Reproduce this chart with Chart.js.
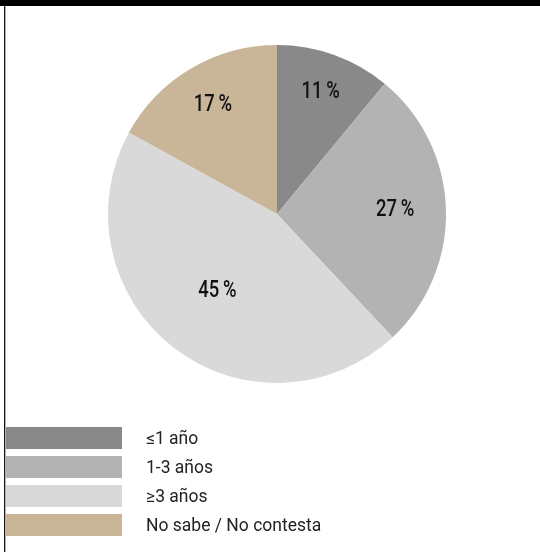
<!DOCTYPE html>
<html>
<head>
<meta charset="utf-8">
<script src="https://cdn.jsdelivr.net/npm/chart.js@4"></script>
<style>
  html, body { margin: 0; padding: 0; background: #fff; }
  body { width: 540px; height: 552px; position: relative; overflow: hidden; }
  #topbar { position: absolute; left: 0; top: 0; width: 540px; height: 6px; background: #000; }
  #leftline { position: absolute; left: 4px; top: 6px; width: 1px; height: 546px; background: #1a1a1a; border-right: 1px solid #b0b0b0; }
  #wrap { position: absolute; left: 0; top: 0; width: 540px; height: 552px; }
  #legend { position: absolute; left: 6px; top: 427px; font-family: Roboto, "Noto Sans", sans-serif; font-size: 17.5px; color: #222; }
  .item { display: flex; align-items: center; height: 22px; margin-bottom: 7px; }
  .box { width: 116px; height: 22px; margin-right: 24px; }
</style>
</head>
<body>
<div id="topbar"></div>
<div id="wrap"><canvas id="myChart"></canvas></div>
<div id="leftline"></div>
<div id="legend"></div>
<script>
// categories and shares (%)
const categories = ['\u22641 a\u00f1o', '1-3 a\u00f1os', '\u22653 a\u00f1os', 'No sabe / No contesta'];
const shares = [11, 27, 45, 17];
const colors = ['#898989', '#b3b3b3', '#d9d9d9', '#c9b698'];

// percentage labels drawn inside each slice
const sliceLabels = {
    id: 'sliceLabels',
    afterDatasetsDraw(chart) {
        const ctx = chart.ctx;
        const meta = chart.getDatasetMeta(0);
        ctx.save();
        ctx.font = '500 23px Roboto, sans-serif';
        ctx.fillStyle = '#111';
        ctx.textAlign = 'center';
        ctx.textBaseline = 'middle';
        meta.data.forEach(function (arc, i) {
            const p = arc.getProps(['x', 'y', 'startAngle', 'endAngle', 'outerRadius'], true);
            const half = (p.endAngle - p.startAngle) / 2;
            const mid = p.startAngle + half;
            // sector centroid, pushed out a little
            const r = p.outerRadius * (2 * Math.sin(half) / (3 * half) + 0.11);
            const lx = p.x + Math.cos(mid) * r;
            const ly = p.y + Math.sin(mid) * r;
            // squeeze horizontally to look like a condensed face
            ctx.save();
            ctx.translate(lx, ly);
            ctx.scale(0.8, 1);
            ctx.fillText(shares[i] + '\u2009%', 0, 0);
            ctx.restore();
        });
        ctx.restore();
    }
};

const ctx1 = document.getElementById('myChart').getContext('2d');
const myChart = new Chart(ctx1, {
    type: 'pie',
    data: {
        labels: categories,
        datasets: [{
            data: shares,
            backgroundColor: colors,
            borderWidth: 0
        }]
    },
    options: {
        responsive: true,
        maintainAspectRatio: false,
        animation: false,
        layout: {
            padding: { left: 108, right: 94, top: 45, bottom: 169 }
        },
        plugins: {
            legend: { display: false },
            tooltip: { enabled: false }
        }
    },
    plugins: [sliceLabels]
});

// legend built from the same arrays
const legend = document.getElementById('legend');
categories.forEach(function (label, i) {
    const row = document.createElement('div');
    row.className = 'item';
    const box = document.createElement('div');
    box.className = 'box';
    box.style.background = colors[i];
    const txt = document.createElement('span');
    txt.textContent = label;
    row.appendChild(box);
    row.appendChild(txt);
    legend.appendChild(row);
});
</script>
</body>
</html>
